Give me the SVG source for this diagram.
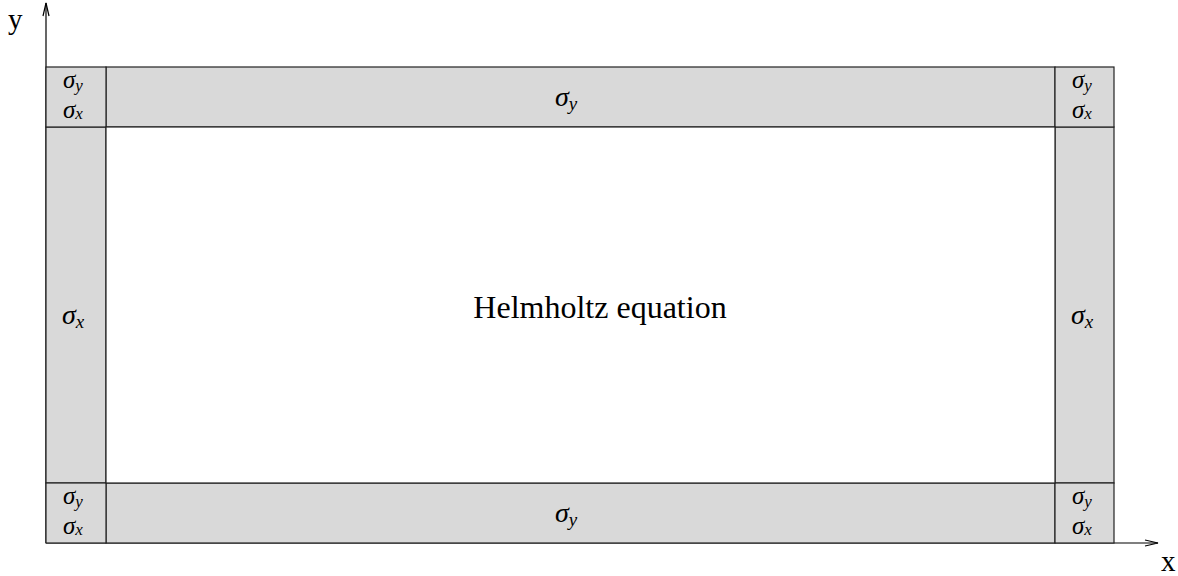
<svg xmlns="http://www.w3.org/2000/svg" width="1178" height="576" viewBox="0 0 1178 576">
<style>
.cell{fill:#d9d9d9;stroke:#222;stroke-width:1.2}
.ax{stroke:#000;stroke-width:1.2;fill:none}
.s{font-family:"Liberation Serif","DejaVu Serif",serif;font-style:italic;font-size:28px;fill:#000}
.c{font-family:"Liberation Serif","DejaVu Serif",serif;font-style:italic;font-size:25px;fill:#000}
.sub{font-size:19px}
.csub{font-size:17px}
.t{font-family:"Liberation Serif","Times New Roman",serif;font-size:32px;fill:#000}
.ax-l{font-family:"Liberation Serif","Times New Roman",serif;font-size:29px;fill:#000}
</style>
<g id="axes" class="ax">
<line x1="46" y1="543" x2="46" y2="3"/>
<polyline points="43,16 46,3 49,16"/>
<line x1="46" y1="543" x2="1158" y2="543"/>
<polyline points="1145,540 1158,543 1145,546"/>
</g>
<text class="ax-l" x="8" y="29">y</text>
<text class="ax-l" x="1161" y="571">x</text>
<g id="band-top"><rect class="cell" x="106" y="67" width="949" height="60"/>
<text class="s" x="555" y="106">σ<tspan class="sub" dy="4">y</tspan></text></g>
<g id="band-bottom"><rect class="cell" x="106" y="483" width="949" height="60"/>
<text class="s" x="555" y="522">σ<tspan class="sub" dy="4">y</tspan></text></g>
<g id="band-left"><rect class="cell" x="46" y="127" width="60" height="356"/>
<text class="s" x="62" y="324">σ<tspan class="sub" dy="4">x</tspan></text></g>
<g id="band-right"><rect class="cell" x="1055" y="127" width="59" height="356"/>
<text class="s" x="1071" y="324">σ<tspan class="sub" dy="4">x</tspan></text></g>
<g id="corner-tl"><rect class="cell" x="46" y="67" width="60" height="60"/>
<text class="c" x="63" y="88">σ<tspan class="csub" dy="3">y</tspan></text>
<text class="c" x="63" y="118">σ<tspan class="csub" dy="1">x</tspan></text></g>
<g id="corner-tr"><rect class="cell" x="1055" y="67" width="59" height="60"/>
<text class="c" x="1072" y="88">σ<tspan class="csub" dy="3">y</tspan></text>
<text class="c" x="1072" y="118">σ<tspan class="csub" dy="1">x</tspan></text></g>
<g id="corner-bl"><rect class="cell" x="46" y="483" width="60" height="60"/>
<text class="c" x="63" y="504">σ<tspan class="csub" dy="3">y</tspan></text>
<text class="c" x="63" y="534">σ<tspan class="csub" dy="1">x</tspan></text></g>
<g id="corner-br"><rect class="cell" x="1055" y="483" width="59" height="60"/>
<text class="c" x="1072" y="504">σ<tspan class="csub" dy="3">y</tspan></text>
<text class="c" x="1072" y="534">σ<tspan class="csub" dy="1">x</tspan></text></g>
<g id="center"><rect x="106" y="127" width="949" height="356" fill="#fff" stroke="#222" stroke-width="1.2"/>
<text class="t" x="600" y="318" text-anchor="middle">Helmholtz equation</text></g>
</svg>
